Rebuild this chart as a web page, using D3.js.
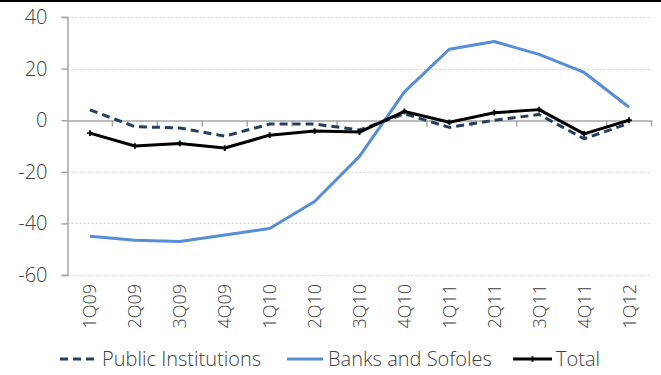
<!DOCTYPE html>
<html>
<head>
<meta charset="utf-8">
<script src="https://cdn.jsdelivr.net/npm/d3@7"></script>
<style>
  html, body { margin: 0; padding: 0; background: #fff; }
  svg { display: block; }
  text { font-family: 'Open Sans', sans-serif; font-weight: 300; fill: #404040; }
</style>
</head>
<body>
<svg id="chart" width="661" height="375"></svg>
<script>
// Quarterly categories
const categories = ["1Q09","2Q09","3Q09","4Q09","1Q10","2Q10","3Q10","4Q10","1Q11","2Q11","3Q11","4Q11","1Q12"];

// Series values
const publicInstitutions = [4, -2.5, -3, -6.2, -1.5, -1.5, -3.8, 2.5, -2.8, 0, 2.2, -7.2, -1.2];
const banksAndSofoles    = [-45, -46.5, -47, -44.5, -42, -31.5, -14, 11, 27.5, 30.5, 25.5, 18.5, 5];
const total              = [-5, -10, -9, -10.8, -5.8, -4.2, -4.6, 3.4, -0.8, 2.9, 4.1, -5.3, 0];

// Axis ticks
const yTicks = [-60, -40, -20, 0, 20, 40];

const series = [
  { name: "Public Institutions", values: publicInstitutions, color: "#243F60", dash: "8,5", markers: false },
  { name: "Banks and Sofoles",   values: banksAndSofoles,    color: "#558ED5", dash: null,  markers: false },
  { name: "Total",               values: total,              color: "#000000", dash: null,  markers: true }
];

const svg = d3.select("#chart");

// Thin black rule along the top edge
svg.append("rect").attr("x", 0).attr("y", 0).attr("width", 661).attr("height", 2).attr("fill", "#000");

const x = d3.scaleBand().domain(categories).range([67.5, 651.5]);
const y = d3.scaleLinear().domain([-60, 40]).range([275, 17]);
const cx = c => x(c) + x.bandwidth() / 2;

// Horizontal gridlines
svg.append("g").selectAll("line")
  .data(yTicks.filter(v => v !== 0))
  .join("line")
  .attr("x1", 67.5).attr("x2", 651.5)
  .attr("y1", d => Math.round(y(d)) + 0.5).attr("y2", d => Math.round(y(d)) + 0.5)
  .attr("stroke", "#D0D0D0").attr("stroke-width", 1).attr("stroke-dasharray", "2,2");

// Y axis
const yAxis = svg.append("g")
  .attr("transform", "translate(67.5,0)")
  .call(d3.axisLeft(y).tickValues(yTicks).tickSize(6).tickPadding(14).tickFormat(d => String(d)));
yAxis.attr("font-family", null).attr("font-size", null);
yAxis.select(".domain").attr("stroke", "#A6A6A6").attr("stroke-width", 1.5);
yAxis.selectAll(".tick line").attr("stroke", "#A6A6A6").attr("stroke-width", 1.5);
yAxis.selectAll(".tick text").attr("font-size", 20).attr("fill", "#404040");

// X axis along zero, with tick marks on category boundaries
const xAxis = svg.append("g")
  .attr("transform", `translate(0,${Math.round(y(0)) + 0.5})`)
  .call(d3.axisBottom(x).tickSize(0).tickFormat(""));
xAxis.select(".domain").attr("stroke", "#A6A6A6").attr("stroke-width", 1.5);
xAxis.selectAll(".tick").remove();
const bounds = categories.map(c => x(c)).concat([x.range()[1]]);
xAxis.selectAll("line.bound")
  .data(bounds.slice(1))
  .join("line")
  .attr("class", "bound")
  .attr("x1", d => d).attr("x2", d => d)
  .attr("y1", 0).attr("y2", 6)
  .attr("stroke", "#A6A6A6").attr("stroke-width", 1.5);

// Category labels, rotated, at the bottom
svg.append("g").selectAll("text")
  .data(categories)
  .join("text")
  .attr("transform", d => `translate(${cx(d)},284) rotate(-90)`)
  .attr("text-anchor", "end")
  .attr("dy", "0.36em")
  .attr("font-size", 18)
  .text(d => d);

// Lines
const line = d3.line().x((d, i) => cx(categories[i])).y(d => y(d));

series.forEach(s => {
  svg.append("path")
    .datum(s.values)
    .attr("d", line)
    .attr("fill", "none")
    .attr("stroke", s.color)
    .attr("stroke-width", 3)
    .attr("stroke-linejoin", "round")
    .attr("stroke-dasharray", s.dash);
  if (s.markers) {
    svg.append("g").selectAll("path")
      .data(s.values)
      .join("path")
      .attr("d", d3.symbol(d3.symbolCross, 18))
      .attr("transform", (d, i) => `translate(${cx(categories[i])},${y(d)})`)
      .attr("fill", s.color);
  }
});

// Legend
const legendItems = [
  { s: series[0], x0: 60, x1: 95, tx: 102 },
  { s: series[1], x0: 287, x1: 323, tx: 328 },
  { s: series[2], x0: 513, x1: 552, tx: 556 }
];
const legend = svg.append("g");
legendItems.forEach(it => {
  legend.append("line")
    .attr("x1", it.x0).attr("x2", it.x1)
    .attr("y1", 359).attr("y2", 359)
    .attr("stroke", it.s.color).attr("stroke-width", 3)
    .attr("stroke-dasharray", it.s.dash);
  if (it.s.markers) {
    legend.append("path")
      .attr("d", d3.symbol(d3.symbolCross, 18))
      .attr("transform", `translate(${(it.x0 + it.x1) / 2},359)`)
      .attr("fill", it.s.color);
  }
  legend.append("text")
    .attr("x", it.tx).attr("y", 359)
    .attr("dy", "0.35em")
    .attr("font-size", 20)
    .text(it.s.name);
});
</script>
</body>
</html>
